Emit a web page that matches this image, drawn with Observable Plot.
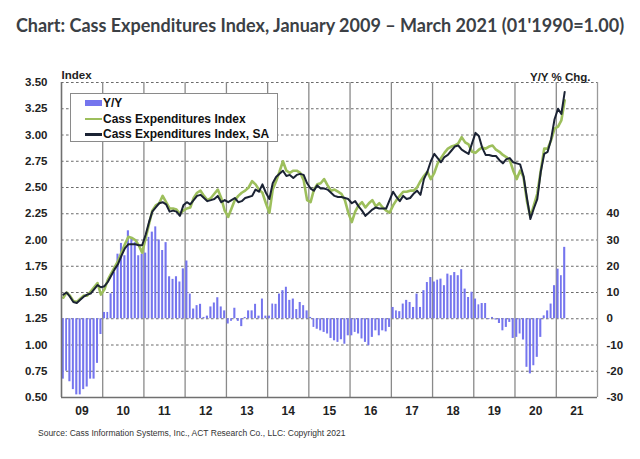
<!DOCTYPE html>
<html><head><meta charset="utf-8">
<script src="https://cdn.jsdelivr.net/npm/d3@7"></script>
<script src="https://cdn.jsdelivr.net/npm/@observablehq/plot@0.6"></script>
<style>
html,body{margin:0;padding:0;background:#fff;width:640px;height:459px;overflow:hidden}
#wrap{position:relative;width:640px;height:459px}
#title{position:absolute;left:0;top:0;width:640px;height:48px;text-align:center;font-family:Lato,sans-serif;font-weight:700;font-size:18px;line-height:50px;color:#3b4045;white-space:nowrap}
#chart{position:absolute;left:0;top:48px}
#legend{position:absolute;left:70px;top:93px;width:206px;height:47px;border:1px solid #8a8a8a;background:#fff;font-family:"Liberation Sans",Arial,sans-serif;font-weight:700;font-size:12px;color:#111}
.item{position:absolute;left:14px;height:14px;line-height:14px;white-space:nowrap}
.sw{position:absolute;left:0;width:17px}
.lab{position:absolute;left:18px;top:0}
#source{position:absolute;left:38px;top:428px;font-family:"Liberation Sans",Arial,sans-serif;font-size:8.5px;color:#333;white-space:nowrap}
</style></head>
<body>
<div id="wrap">
  <div id="title">Chart: Cass Expenditures Index, January 2009 – March 2021 (01'1990=1.00)</div>
  <div id="chart"></div>
  <div id="legend"></div>
  <div id="source">Source: Cass Information Systems, Inc., ACT Research Co., LLC: Copyright 2021</div>
</div>
<script>
// Y/Y % change, monthly Jan 2009 – Mar 2021
const yoy = [
  -23, -20, -24, -27, -29, -29, -27, -26, -23, -23, -17, -6,        // 2009
  2.4, 2.4, 9.5, 17.6, 24.6, 28.7, 24, 33.5, 31, 29, 24, 24.6,      // 2010
  25, 31, 33, 35, 30, 26, 29, 16, 15, 16, 14, 19,                   // 2011
  22, 9.4, 3.7, 5, 5.5, 0.5, 1, 4.5, 6, 8, 4.5, 3,                  // 2012
  -2, -1, 4, -1, -3, 0.5, 3, 3, 5.5, 1, 7.5, 1,                     // 2013
  1, 5.6, 5.5, 9.4, 10.7, 12, 7, 7.5, 3.5, 6.2, 5, 3,               // 2014
  0.5, -3.3, -4, -4.6, -5.2, -5.8, -7.5, -8.4, -9, -8, -9.7, -6.5,  // 2015
  -6.5, -5.2, -5.8, -7.7, -9, -10.3, -7.1, -4.6, -6.5, -4.6, -5, -3.3, // 2016
  4.3, 3, 2.7, 5.6, 7, 6.2, 4.3, 9.4, 4.3, 10.7, 13.8, 15.7,        // 2017
  14, 14.7, 15.1, 12.6, 17, 16.4, 17.6, 16.4, 18.7, 11.3, 8.1, 10.1, // 2018
  7.5, 5.3, 5.8, 5.8, -0.3, 0.5, -0.5, -1.8, -4.6, -3.3, -1.4, -7.5, // 2019
  -7.1, -5.8, -8.1, -18.5, -21, -17.9, -14.7, -7.1, 1.1, 3, 5.6, 12.6, // 2020
  18.9, 16.4, 27.2                                                  // 2021
];
// Cass Expenditures Index (not seasonally adjusted)
const cass = [
  1.45, 1.50, 1.47, 1.42, 1.41, 1.44, 1.47, 1.47, 1.51, 1.55, 1.59, 1.48,
  1.53, 1.62, 1.68, 1.74, 1.80, 1.88, 1.96, 2.03, 2.02, 2.00, 1.95, 1.88,
  2.02, 2.15, 2.28, 2.33, 2.35, 2.42, 2.36, 2.30, 2.30, 2.29, 2.25, 2.28,
  2.30, 2.31, 2.40, 2.45, 2.47, 2.42, 2.38, 2.40, 2.44, 2.48, 2.40, 2.28,
  2.22, 2.30, 2.38, 2.42, 2.45, 2.47, 2.50, 2.56, 2.53, 2.48, 2.45, 2.35,
  2.26, 2.48, 2.56, 2.65, 2.75, 2.66, 2.64, 2.66, 2.66, 2.64, 2.57, 2.38,
  2.36, 2.48, 2.53, 2.54, 2.58, 2.52, 2.47, 2.48, 2.46, 2.44, 2.38, 2.26,
  2.17, 2.27, 2.33, 2.36, 2.31, 2.35, 2.38, 2.32, 2.35, 2.31, 2.28, 2.26,
  2.33, 2.38, 2.42, 2.46, 2.46, 2.47, 2.47, 2.50, 2.56, 2.61, 2.65, 2.58,
  2.64, 2.73, 2.78, 2.83, 2.87, 2.89, 2.90, 2.92, 2.98, 2.93, 2.91, 2.84,
  2.83, 2.86, 2.88, 2.87, 2.89, 2.90, 2.86, 2.84, 2.81, 2.79, 2.76, 2.66,
  2.58, 2.66, 2.60, 2.37, 2.22, 2.33, 2.44, 2.66, 2.87, 2.87, 2.95, 3.06,
  3.08, 3.14, 3.33
];
// Cass Expenditures Index, seasonally adjusted
const cassSA = [
  1.48, 1.50, 1.46, 1.41, 1.40, 1.43, 1.46, 1.48, 1.49, 1.53, 1.57, 1.55,
  1.56, 1.60, 1.66, 1.72, 1.77, 1.85, 1.92, 1.96, 1.96, 1.96, 1.95, 1.95,
  2.05, 2.17, 2.27, 2.31, 2.35, 2.36, 2.34, 2.27, 2.28, 2.27, 2.23, 2.33,
  2.36, 2.34, 2.38, 2.42, 2.43, 2.40, 2.37, 2.38, 2.39, 2.42, 2.36, 2.38,
  2.36, 2.38, 2.40, 2.36, 2.37, 2.40, 2.41, 2.42, 2.48, 2.46, 2.53, 2.45,
  2.39, 2.54, 2.60, 2.63, 2.66, 2.61, 2.62, 2.59, 2.62, 2.63, 2.62, 2.54,
  2.49, 2.47, 2.52, 2.49, 2.49, 2.48, 2.45, 2.42, 2.41, 2.41, 2.40, 2.39,
  2.35, 2.37, 2.32, 2.28, 2.23, 2.26, 2.29, 2.31, 2.30, 2.30, 2.30, 2.38,
  2.46, 2.41, 2.37, 2.42, 2.39, 2.40, 2.44, 2.47, 2.43, 2.58, 2.65, 2.75,
  2.82, 2.78, 2.74, 2.79, 2.81, 2.85, 2.89, 2.90, 2.86, 2.84, 2.82, 2.92,
  3.02, 2.99, 2.88, 2.81, 2.81, 2.80, 2.80, 2.76, 2.73, 2.77, 2.78, 2.74,
  2.73, 2.72, 2.61, 2.40, 2.20, 2.30, 2.39, 2.65, 2.82, 2.84, 2.96, 3.15,
  3.25, 3.20, 3.41
];
const years = [2009, 2010, 2011, 2012, 2013, 2014, 2015, 2016, 2017, 2018, 2019, 2020, 2021];
const yearLabels = ["09", "10", "11", "12", "13", "14", "15", "16", "17", "18", "19", "20", "21"];
const leftTicks = [0.5, 0.75, 1.0, 1.25, 1.5, 1.75, 2.0, 2.25, 2.5, 2.75, 3.0, 3.25, 3.5];
const rightTicks = [-30, -20, -10, 0, 10, 20, 30, 40];
const legendItems = ["Y/Y", "Cass Expenditures Index", "Cass Expenditures Index, SA"];
const colors = {yy: "#7575ee", nsa: "#9dbf5c", sa: "#1b2334"};

// Right axis (Y/Y %) is mapped onto the index axis: 0% = 1.25, 10 pts = 0.25
const yyToIdx = v => 1.25 + v * 0.025;
const idxToYy = t => Math.round((t - 1.25) / 0.025);

const start = new Date(Date.UTC(2009, 0, 1));
const months = d3.utcMonth.range(start, d3.utcMonth.offset(start, yoy.length));
const rows = months.map((d, i) => {
  const e = d3.utcMonth.offset(d, 1);
  return {start: d, end: e, mid: new Date((+d + +e) / 2), yy: yoy[i], nsa: cass[i], sa: cassSA[i]};
});
const yearStart = years.map(y => new Date(Date.UTC(y, 0, 1)));
const xEnd = new Date(Date.UTC(years[years.length - 1] + 1, 0, 1));
const yearMid = years.map(y => new Date(Date.UTC(y, 6, 2)));
const labelByTime = new Map(yearMid.map((d, i) => [+d, yearLabels[i]]));

const font = "Liberation Sans, Arial, sans-serif";
const chart = Plot.plot({
  width: 640, height: 375,
  marginLeft: 61, marginRight: 43, marginTop: 34, marginBottom: 26,
  style: {fontFamily: font, background: "transparent", overflow: "visible"},
  x: {type: "utc", domain: [yearStart[0], xEnd], axis: null},
  y: {domain: [leftTicks[0], leftTicks[leftTicks.length - 1]], axis: null},
  marks: [
    Plot.ruleY(leftTicks.slice(1), {stroke: "#6a6a6a", strokeWidth: 1, strokeDasharray: "2.6,2.4"}),
    Plot.ruleX(yearStart.slice(1), {stroke: "#8a8a8a", strokeWidth: 1.3}),
    Plot.rect(rows, {x1: "start", x2: "end", y1: () => yyToIdx(0), y2: d => yyToIdx(d.yy),
      fill: colors.yy, insetLeft: 0.7, insetRight: 0.7}),
    Plot.line(rows, {x: "mid", y: "nsa", stroke: colors.nsa, strokeWidth: 2.6}),
    Plot.line(rows, {x: "mid", y: "sa", stroke: colors.sa, strokeWidth: 2}),
    Plot.ruleX([xEnd], {stroke: "#9a9a9a", strokeWidth: 1.3}),
    Plot.ruleX([yearStart[0]], {stroke: "#707070", strokeWidth: 1.6}),
    Plot.ruleY([leftTicks[0]], {stroke: "#707070", strokeWidth: 1.6}),
    Plot.axisY(leftTicks, {anchor: "left", tickSize: 0, tickPadding: 14,
      tickFormat: d => d.toFixed(2), fontWeight: "bold", fontSize: 11.5, fill: "#222"}),
    Plot.axisY(rightTicks.map(yyToIdx), {anchor: "right", tickSize: 0, tickPadding: 9,
      tickFormat: d => String(idxToYy(d)), fontWeight: "bold", fontSize: 11.5, fill: "#222"}),
    Plot.axisX(yearMid, {anchor: "bottom", tickSize: 0, tickPadding: 9,
      tickFormat: d => labelByTime.get(+d), fontWeight: "bold", fontSize: 12, fill: "#222"}),
    Plot.text(["Index"], {frameAnchor: "top-left", dy: -12, text: d => d,
      fontWeight: "bold", fontSize: 11.5, fill: "#222"}),
    Plot.text(["Y/Y % Chg."], {frameAnchor: "top-right", dx: -7, dy: -10, textAnchor: "end", text: d => d,
      fontWeight: "bold", fontSize: 11.5, fill: "#222"})
  ]
});
document.getElementById("chart").appendChild(chart);

// Legend
const legend = document.getElementById("legend");
const tops = [1.5, 17.5, 33];
legendItems.forEach((name, i) => {
  const it = document.createElement("div");
  it.className = "item";
  it.style.top = tops[i] + "px";
  const sw = document.createElement("div");
  sw.className = "sw";
  if (i === 0) { sw.style.top = "4px"; sw.style.height = "6px"; sw.style.background = colors.yy; }
  else { sw.style.top = "6px"; sw.style.height = "2.5px"; sw.style.background = i === 1 ? colors.nsa : colors.sa; }
  const lab = document.createElement("div");
  lab.className = "lab";
  lab.textContent = name;
  it.appendChild(sw); it.appendChild(lab);
  legend.appendChild(it);
});
</script>
</body></html>
